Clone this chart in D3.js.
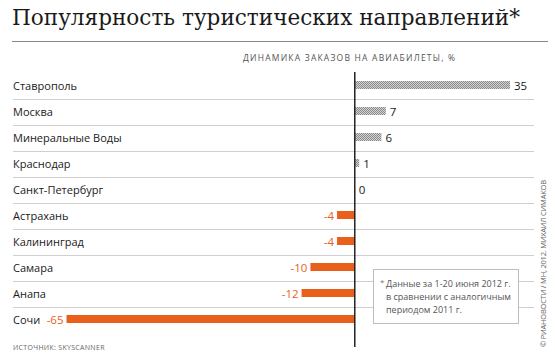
<!DOCTYPE html>
<html>
<head>
<meta charset="utf-8">
<script src="https://cdn.jsdelivr.net/npm/d3@7"></script>
<style>
  body { margin: 0; background: #fff; }
  text { font-family: "Open Sans", sans-serif; }
</style>
</head>
<body>
<div id="chart"></div>
<script>
// data
const cities = ["Ставрополь", "Москва", "Минеральные Воды", "Краснодар", "Санкт-Петербург",
  "Астрахань", "Калининград", "Самара", "Анапа", "Сочи"];
const values = [35, 7, 6, 1, 0, -4, -4, -10, -12, -65];
const noteLines = ["Данные за 1-20 июня 2012 г.", "в сравнении с аналогичным", "периодом 2011 г."];

const W = 555, H = 361;
const orange = "#e8601c";

const svg = d3.select("#chart").append("svg")
  .attr("width", W).attr("height", H);

// hatched fill for positive bars
const pat = svg.append("defs").append("pattern")
  .attr("id", "hatch").attr("patternUnits", "userSpaceOnUse")
  .attr("width", 2).attr("height", 2);
pat.append("rect").attr("width", 2).attr("height", 2).attr("fill", "#d4d4d4");
pat.append("rect").attr("width", 1).attr("height", 1).attr("fill", "#8a8a8a");
pat.append("rect").attr("x", 1).attr("y", 1).attr("width", 1).attr("height", 1).attr("fill", "#8a8a8a");

// title
svg.append("text")
  .attr("x", 12).attr("y", 25)
  .style("font-family", "'DejaVu Serif', serif")
  .style("font-size", "22px")
  .attr("fill", "#1a1a1a")
  .attr("textLength", 508).attr("lengthAdjust", "spacingAndGlyphs")
  .text("Популярность туристических направлений*");

svg.append("line")
  .attr("x1", 12).attr("x2", 548).attr("y1", 41.5).attr("y2", 41.5)
  .attr("stroke", "#888").attr("stroke-width", 1);

// scales
const x = d3.scaleLinear().domain([-65, 35]).range([66.5, 510]);
const y = d3.scaleBand().domain(cities).range([73, 333]);

// subtitle
svg.append("text")
  .attr("x", 243).attr("y", 61)
  .style("font-size", "8.5px")
  .attr("fill", "#555")
  .attr("textLength", 212)
  .text("ДИНАМИКА ЗАКАЗОВ НА АВИАБИЛЕТЫ, %");

// row separators
svg.append("g").selectAll("line")
  .data(cities.slice(1))
  .join("line")
  .attr("x1", 13).attr("x2", 534)
  .attr("y1", d => y(d) + 0.5).attr("y2", d => y(d) + 0.5)
  .attr("stroke", "#cfcfcf").attr("stroke-width", 1);

// city labels
svg.append("g").selectAll("text")
  .data(cities)
  .join("text")
  .attr("x", 13)
  .attr("y", d => y(d) + y.bandwidth() / 2 + 4)
  .style("font-size", "11px")
  .attr("fill", "#1a1a1a")
  .text(d => d);

// bars
const rows = cities.map((c, i) => ({ city: c, v: values[i] }));
const barH = 8;
svg.append("g").selectAll("rect")
  .data(rows.filter(d => d.v !== 0))
  .join("rect")
  .attr("x", d => x(Math.min(0, d.v)))
  .attr("width", d => Math.abs(x(d.v) - x(0)))
  .attr("y", d => y(d.city) + y.bandwidth() / 2 - barH / 2 - 1)
  .attr("height", barH)
  .attr("fill", d => d.v > 0 ? "url(#hatch)" : orange);

// value labels
svg.append("g").selectAll("text")
  .data(rows)
  .join("text")
  .attr("x", d => d.v >= 0 ? x(d.v) + 4 : x(d.v) - 3)
  .attr("y", d => y(d.city) + y.bandwidth() / 2 + 4)
  .attr("text-anchor", d => d.v >= 0 ? "start" : "end")
  .style("font-size", "11.5px")
  .attr("fill", d => d.v >= 0 ? "#1a1a1a" : orange)
  .text(d => d.v);

// zero line
svg.append("line")
  .attr("x1", x(0)).attr("x2", x(0)).attr("y1", 72).attr("y2", 347)
  .attr("stroke", "#222").attr("stroke-width", 1.5);

// note box
const note = svg.append("g");
note.append("rect")
  .attr("x", 373.5).attr("y", 269.5).attr("width", 145).attr("height", 54)
  .attr("fill", "#fff").attr("stroke", "#bdbdbd");
note.append("text")
  .attr("x", 380).attr("y", 285)
  .style("font-size", "8px").attr("fill", "#777").text("*");
note.selectAll("text.l")
  .data(noteLines)
  .join("text").attr("class", "l")
  .attr("x", 386).attr("y", (d, i) => 287 + i * 13)
  .style("font-size", "9px").attr("fill", "#555")
  .text(d => d);

// source
svg.append("text")
  .attr("x", 13).attr("y", 350)
  .style("font-size", "7px")
  .attr("fill", "#666")
  .attr("letter-spacing", "0.3px")
  .text("ИСТОЧНИК:  SKYSCANNER");

// credit
svg.append("text")
  .attr("transform", "translate(546,347) rotate(-90)")
  .style("font-size", "7.5px")
  .attr("fill", "#666")
  .attr("textLength", 167)
  .text("© РИАНОВОСТИ / МН, 2012. МИХАИЛ СИМАКОВ");
</script>
</body>
</html>
